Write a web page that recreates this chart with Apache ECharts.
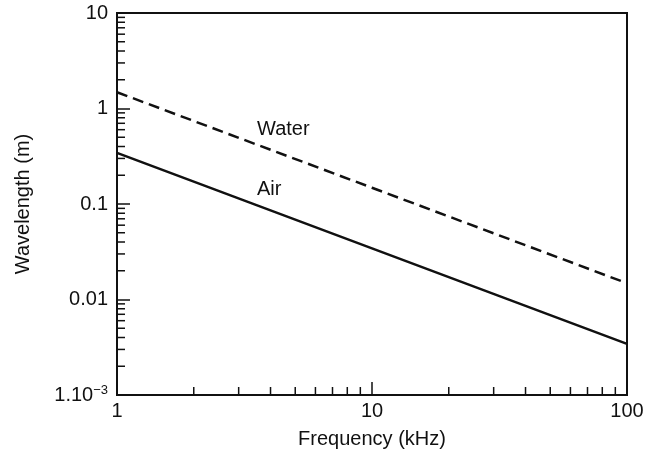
<!DOCTYPE html>
<html>
<head>
<meta charset="utf-8">
<script src="https://cdn.jsdelivr.net/npm/echarts@6/dist/echarts.min.js"></script>
<style>
  html, body { margin: 0; padding: 0; background: #fff; }
  #chart { width: 658px; height: 458px; }
</style>
</head>
<body>
<div id="chart"></div>
<script>
// Sound wavelength versus frequency in air and in water (log-log)
const freqKHz = [1, 10, 100];
const airWavelength = [0.343, 0.0343, 0.00343];
const waterWavelength = [1.48, 0.148, 0.0148];

// Minor tick positions of the two log axes
const xMinorTicks = [2, 3, 4, 5, 6, 7, 8, 9, 20, 30, 40, 50, 60, 70, 80, 90];
const yMinorTicks = [
  0.002, 0.003, 0.004, 0.005, 0.006, 0.007, 0.008, 0.009,
  0.02, 0.03, 0.04, 0.05, 0.06, 0.07, 0.08, 0.09,
  0.2, 0.3, 0.4, 0.5, 0.6, 0.7, 0.8, 0.9,
  2, 3, 4, 5, 6, 7, 8, 9
];

const X_MIN = 1, X_MAX = 100, Y_MIN = 0.001, Y_MAX = 10;
const INK = '#111';
const FONT = '"Liberation Sans", Arial, Helvetica, sans-serif';
const MINOR_LEN = 8;

const chart = echarts.init(document.getElementById('chart'), null, { renderer: 'canvas' });

function yLabel(v) {
  const e = Math.round(Math.log10(v));
  if (e === -3) return '{n|1.10}{sup|\u22123}';
  const map = { '1': '10', '0': '1', '-1': '0.1', '-2': '0.01' };
  return '{n|' + map[String(e)] + '}';
}

chart.setOption({
  animation: false,
  backgroundColor: '#fff',
  textStyle: { fontFamily: FONT },
  grid: {
    left: 117, right: 31, top: 13, bottom: 63,
    show: true, borderColor: INK, borderWidth: 2, backgroundColor: 'transparent'
  },
  xAxis: {
    type: 'log', logBase: 10, min: X_MIN, max: X_MAX,
    name: 'Frequency (kHz)', nameLocation: 'middle', nameGap: 34,
    nameTextStyle: { fontSize: 20, color: INK, fontFamily: FONT },
    axisLine: { show: true, lineStyle: { color: INK, width: 2 } },
    axisTick: { show: true, inside: true, length: 13, lineStyle: { color: INK, width: 1.5 } },
    axisLabel: {
      fontSize: 20, color: INK, fontFamily: FONT, margin: 6,
      formatter: v => String(Math.round(v))
    },
    splitLine: { show: false }
  },
  yAxis: {
    type: 'log', logBase: 10, min: Y_MIN, max: Y_MAX,
    name: 'Wavelength (m)', nameLocation: 'middle', nameGap: 84, nameRotate: 90,
    nameTextStyle: { fontSize: 20, color: INK, fontFamily: FONT },
    axisLine: { show: true, lineStyle: { color: INK, width: 2 } },
    axisTick: { show: true, inside: true, length: 13, lineStyle: { color: INK, width: 1.5 } },
    axisLabel: {
      color: INK, margin: 9, formatter: yLabel,
      rich: {
        n: { fontSize: 20, color: INK, fontFamily: FONT },
        sup: { fontSize: 13, color: INK, fontFamily: FONT, padding: [0, 0, 10, 0] }
      }
    },
    splitLine: { show: false }
  },
  graphic: [
    { type: 'text', left: 257, top: 119, silent: true,
      style: { text: 'Water', font: '20px ' + FONT, fill: INK } },
    { type: 'text', left: 257, top: 179, silent: true,
      style: { text: 'Air', font: '20px ' + FONT, fill: INK } }
  ],
  series: [
    {
      name: 'Water', type: 'line', symbol: 'none', silent: true,
      data: freqKHz.map((f, i) => [f, waterWavelength[i]]),
      lineStyle: { color: INK, width: 2.5, type: [11, 6] }
    },
    {
      name: 'Air', type: 'line', symbol: 'none', silent: true,
      data: freqKHz.map((f, i) => [f, airWavelength[i]]),
      lineStyle: { color: INK, width: 2.5 }
    },
    {
      // minor ticks along the frequency axis
      type: 'custom', silent: true, clip: false,
      data: xMinorTicks.map(v => [v, Y_MIN]),
      renderItem: (params, api) => {
        const p = api.coord([api.value(0), api.value(1)]);
        return { type: 'line', shape: { x1: p[0], y1: p[1], x2: p[0], y2: p[1] - MINOR_LEN },
                 style: { stroke: INK, lineWidth: 1.5 } };
      }
    },
    {
      // minor ticks along the wavelength axis
      type: 'custom', silent: true, clip: false,
      data: yMinorTicks.map(v => [X_MIN, v]),
      renderItem: (params, api) => {
        const p = api.coord([api.value(0), api.value(1)]);
        return { type: 'line', shape: { x1: p[0], y1: p[1], x2: p[0] + MINOR_LEN, y2: p[1] },
                 style: { stroke: INK, lineWidth: 1.5 } };
      }
    }
  ]
});
</script>
</body>
</html>
